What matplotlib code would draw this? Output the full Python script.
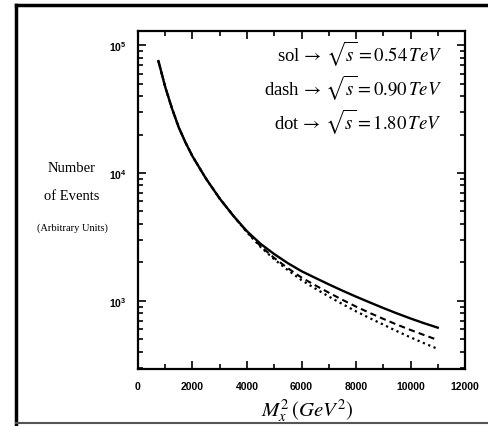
import matplotlib
matplotlib.use("Agg")
import matplotlib.pyplot as plt
from matplotlib.ticker import MultipleLocator, LogLocator, NullFormatter

plt.rcParams['mathtext.fontset'] = 'stix'
plt.rcParams['font.family'] = 'Liberation Serif'

# M_x^2 (GeV^2)
mx2 = [750, 1000, 1250, 1500, 1750, 2000, 2500, 3000, 3500, 4000, 4500, 5000, 5500, 6000,
       6500, 7000, 7500, 8000, 8500, 9000, 9500, 10000, 10500, 11000]
# sqrt(s) = 0.54 TeV (solid)
ev_054 = [75000, 47000, 31800, 22600, 17200, 13500, 9000, 6300, 4620, 3500, 2790, 2320, 1970, 1706,
          1514, 1346, 1202, 1079, 973, 879, 798, 728, 668, 617]
# sqrt(s) = 0.90 TeV (dashed)
ev_090 = [75000, 47000, 31800, 22600, 17200, 13500, 9000, 6300, 4620, 3459, 2673, 2163, 1799, 1521,
          1324, 1159, 1019, 902, 805, 723, 652, 592, 540, 494]
# sqrt(s) = 1.80 TeV (dotted)
ev_180 = [75000, 47000, 31800, 22600, 17200, 13500, 9000, 6300, 4620, 3436, 2636, 2113, 1738, 1452,
          1250, 1081, 944, 828, 733, 652, 579, 518, 466, 421]

legend_lines = [r'sol$\,\rightarrow\,\sqrt{s} = 0.54\,TeV$',
                r'dash$\,\rightarrow\,\sqrt{s} = 0.90\,TeV$',
                r'dot$\,\rightarrow\,\sqrt{s} = 1.80\,TeV$']

fig = plt.figure(figsize=(4.89, 4.27), dpi=100)
ax = fig.add_axes([138 / 489, 1 - 370 / 427, 327 / 489, 338 / 427])

ax.plot(mx2, ev_180, color='black', lw=1.6, linestyle=(0, (1, 1.6)))
ax.plot(mx2, ev_090, color='black', lw=1.5, linestyle=(0, (3, 2)))
ax.plot(mx2, ev_054, color='black', lw=1.7)

ax.set_yscale('log')
ax.set_xlim(0, 12000)
ax.set_ylim(293, 1.29e5)

ax.xaxis.set_major_locator(MultipleLocator(2000))
ax.xaxis.set_minor_locator(MultipleLocator(1000))
ax.yaxis.set_major_locator(LogLocator(base=10, numticks=10))
ax.yaxis.set_minor_locator(LogLocator(base=10, subs=range(2, 10), numticks=20))
ax.yaxis.set_minor_formatter(NullFormatter())

ax.tick_params(which='both', direction='in', top=True, right=True, width=1.2)
ax.tick_params(which='major', length=6)
ax.tick_params(which='minor', length=3.5)
ax.tick_params(axis='x', which='major', pad=9)
ax.tick_params(axis='y', which='major', pad=8)
for lab in ax.get_xticklabels() + ax.get_yticklabels():
    lab.set_family('Liberation Sans')
    lab.set_fontweight('bold')
    lab.set_fontsize(7.5)
for sp in ax.spines.values():
    sp.set_linewidth(1.6)

for i, txt in enumerate(legend_lines):
    ax.text(0.93, 0.935 - i * 0.1, txt, transform=ax.transAxes, ha='right', va='center',
            fontsize=13.5)

fig.text(72 / 489, 1 - 168 / 427, 'Number', ha='center', va='center', fontsize=10.5)
fig.text(72 / 489, 1 - 197 / 427, 'of Events', ha='center', va='center', fontsize=10.5)
fig.text(72 / 489, 1 - 228 / 427, '(Arbitrary Units)', ha='center', va='center', fontsize=7.5)
fig.text(307 / 489, 1 - 411 / 427, r'$M_x^2\,(GeV^2)$', ha='center', va='center', fontsize=15)

# outer frame of the scanned page
fig.add_artist(plt.Line2D([16 / 489, 1], [1 - 6 / 427, 1 - 6 / 427], transform=fig.transFigure,
                          color='black', lw=2.5))
fig.add_artist(plt.Line2D([16 / 489, 16 / 489], [1 - 6 / 427, 0], transform=fig.transFigure,
                          color='black', lw=2.5))
fig.add_artist(plt.Line2D([16 / 489, 1], [1 - 424 / 427, 1 - 424 / 427], transform=fig.transFigure,
                          color='#555555', lw=1.5))

fig.savefig('out.png', dpi=100)
